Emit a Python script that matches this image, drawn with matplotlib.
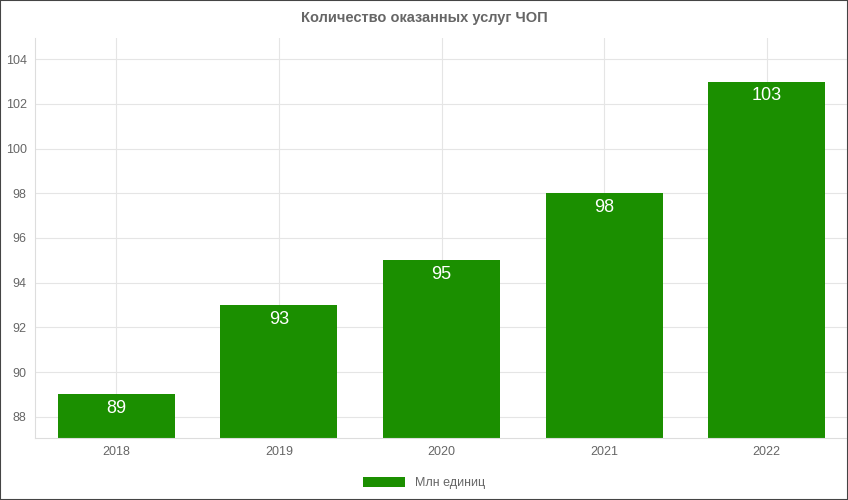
import matplotlib.pyplot as plt
from matplotlib.patches import Rectangle

years = ['2018', '2019', '2020', '2021', '2022']
values = [89, 93, 95, 98, 103]
yticks = [88, 90, 92, 94, 96, 98, 100, 102, 104]

green = '#1b8f00'
plt.rcParams['font.family'] = ['Arial', 'Liberation Sans', 'DejaVu Sans']

fig = plt.figure(figsize=(8.48, 5), dpi=100)
ax = fig.add_axes([35 / 848, 62 / 500, 813 / 848, 400 / 500])

x = list(range(len(years)))
bars = ax.bar(x, values, width=0.72, color=green, label='Млн единиц', zorder=2)
for xi, v in zip(x, values):
    ax.text(xi, v - 0.25, str(v), ha='center', va='top', color='white', fontsize=13, zorder=3)

ax.set_xlim(-0.5, len(years) - 0.5)
ax.set_ylim(87.05, 104.95)
ax.set_yticks(yticks)
ax.set_xticks(x)
ax.set_xticklabels(years)
ax.tick_params(colors='#666666', labelsize=9, length=0, pad=6)
ax.grid(True, color='#e5e5e5', lw=0.8, zorder=0)
for s in ['top', 'right']:
    ax.spines[s].set_visible(False)
for s in ['left', 'bottom']:
    ax.spines[s].set_color('#dddddd')

fig.text(0.5, 1 - 18 / 500, 'Количество оказанных услуг ЧОП', ha='center', va='center',
         fontsize=10.5, fontweight='bold', color='#666666')
fig.legend(loc='center', bbox_to_anchor=(0.5, 1 - 483 / 500), frameon=False,
           fontsize=9, labelcolor='#666666', handlelength=3.3, handleheight=0.9)
fig.add_artist(Rectangle((0, 0), 1, 1, transform=fig.transFigure, fill=False,
                         edgecolor='#444444', lw=1.5))
fig.savefig('out.png', dpi=100)
